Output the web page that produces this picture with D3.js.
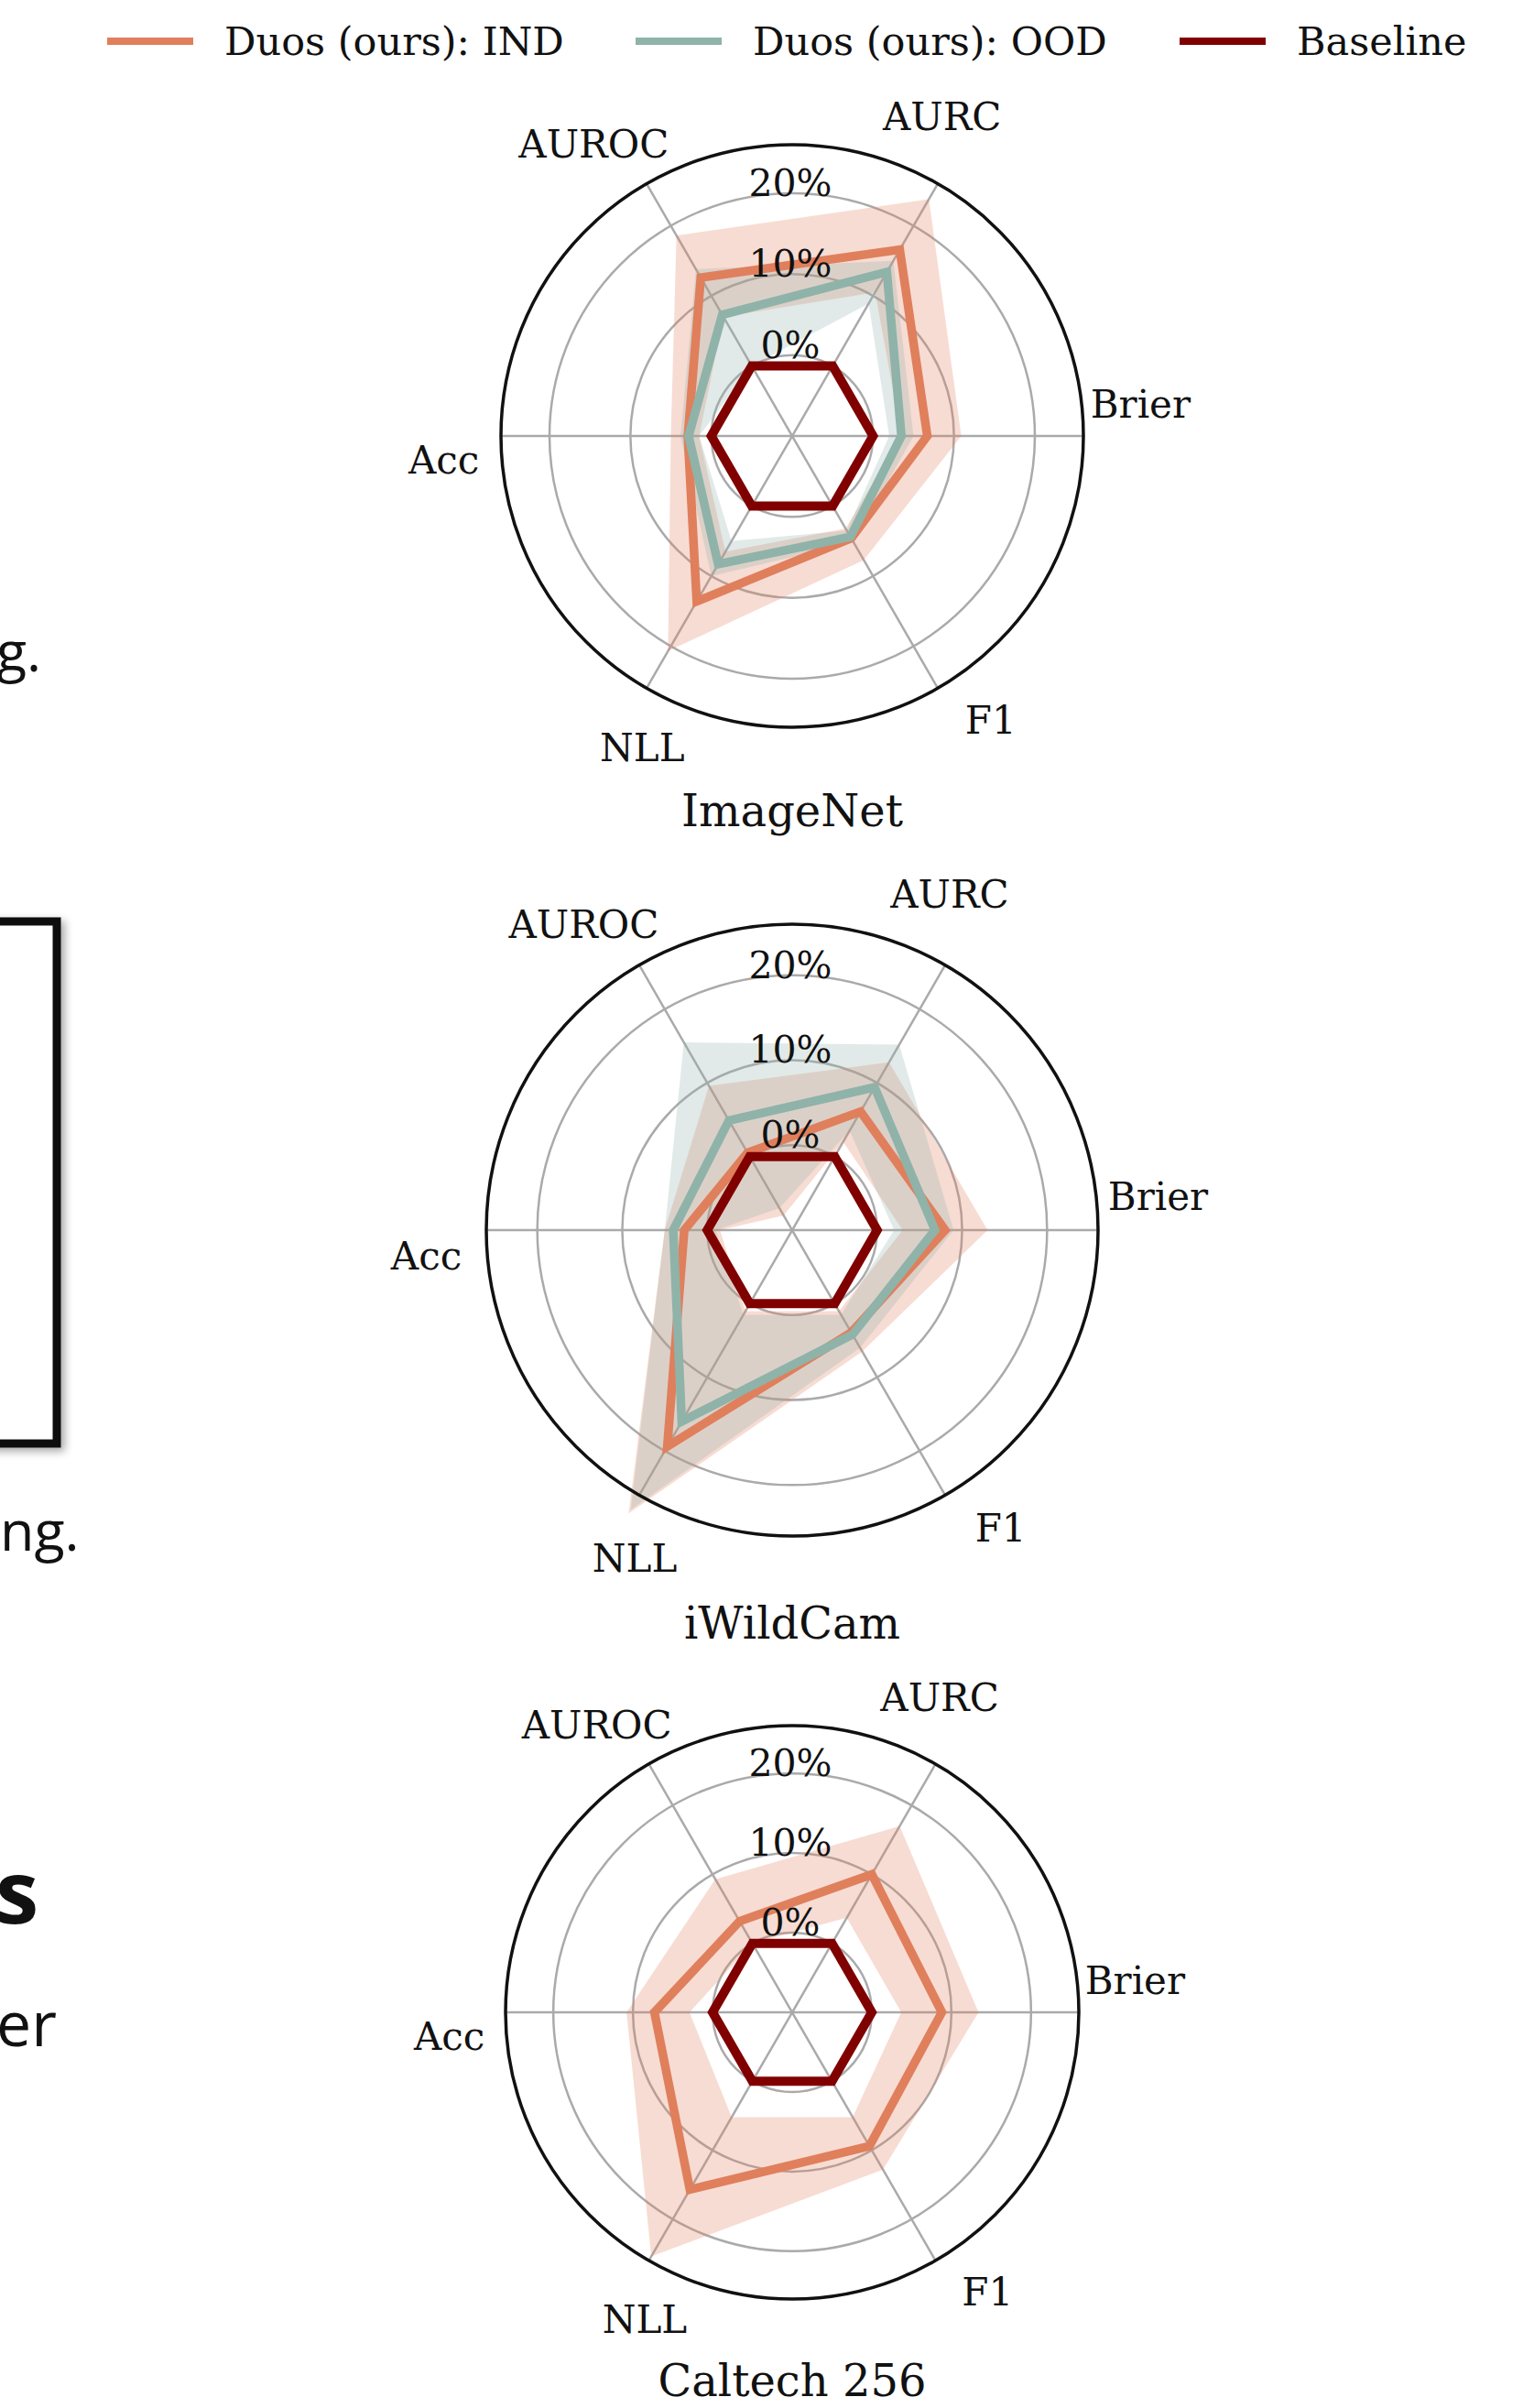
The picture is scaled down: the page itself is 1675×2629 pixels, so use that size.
<!DOCTYPE html>
<html>
<head>
<meta charset="utf-8">
<script src="https://cdn.jsdelivr.net/npm/d3@7"></script>
<style>
  body { margin: 0; background: #fff; }
  svg { display: block; }
</style>
</head>
<body>
<div id="chart"></div>
<script>
// Metrics go counter-clockwise starting at 3 o'clock
const metrics = ["Brier", "AURC", "AUROC", "Acc", "NLL", "F1"];
const datasets = ["ImageNet", "iWildCam", "Caltech 256"];
const rTicks = [0, 10, 20];
const rTickLabels = ["0%", "10%", "20%"];
const rDomain = [-10, 26];
const seriesNames = ["Duos (ours): IND", "Duos (ours): OOD", "Baseline"];

// relative improvement over baseline (%)
const baseline = [0, 0, 0, 0, 0, 0];

const imagenetInd = [6.7, 16.6, 12.6, 2.9, 13.6, 4.6];
const imagenetIndLow = [3.5, 10.5, 7.0, 1.5, 6.5, 3.2];
const imagenetIndHigh = [10.9, 23.8, 18.6, 5.0, 20.7, 7.7];
const imagenetOod = [3.5, 13.4, 7.3, 2.8, 8.3, 4.4];
const imagenetOodLow = [2.0, 8.9, 0.0, 1.5, 5.0, 3.5];
const imagenetOodHigh = [5.0, 15.0, 13.8, 3.8, 10.0, 5.2];

const iwildcamInd = [8.0, 6.1, 0.5, 2.7, 19.4, 3.9];
const iwildcamIndLow = [3.0, 2.0, -8.0, -1.5, 1.0, 1.0];
const iwildcamIndHigh = [13.0, 12.8, 9.6, 5.0, 28.5, 6.5];
const iwildcamOod = [6.8, 9.4, 4.9, 4.0, 16.0, 4.2];
const iwildcamOodLow = [2.0, 3.5, -7.0, -1.0, 1.5, 1.5];
const iwildcamOodHigh = [9.0, 15.2, 15.5, 5.0, 28.0, 6.0];

const caltechInd = [8.8, 10.0, 3.2, 7.3, 15.7, 9.4];
const caltechIndLow = [3.7, 3.7, 0.0, 2.9, 5.2, 5.2];
const caltechIndHigh = [13.4, 17.0, 9.3, 10.8, 25.4, 12.8];

const colors = { ind: "#e07f5c", ood: "#8fb3a9", base: "#800000" };

const panels = [
  { name: datasets[0], cy: 476, R: 318,
    ind: imagenetInd, indLow: imagenetIndLow, indHigh: imagenetIndHigh,
    ood: imagenetOod, oodLow: imagenetOodLow, oodHigh: imagenetOodHigh },
  { name: datasets[1], cy: 1343, R: 334,
    ind: iwildcamInd, indLow: iwildcamIndLow, indHigh: iwildcamIndHigh,
    ood: iwildcamOod, oodLow: iwildcamOodLow, oodHigh: iwildcamOodHigh },
  { name: datasets[2], cy: 2197, R: 313,
    ind: caltechInd, indLow: caltechIndLow, indHigh: caltechIndHigh,
    ood: null }
];

const W = 1675, H = 2629, cx = 865;
const serif = "'DejaVu Serif', serif";

const svg = d3.select("#chart").append("svg")
    .attr("width", W)
    .attr("height", H)
    .style("background", "#fff");

// --- clipped poster content on the left edge ---
const defs = svg.append("defs");
const shadow = defs.append("filter").attr("id", "shadow")
    .attr("x", "-20%").attr("y", "-20%").attr("width", "140%").attr("height", "140%");
shadow.append("feDropShadow")
    .attr("dx", 4).attr("dy", 4).attr("stdDeviation", 5)
    .attr("flood-color", "#000").attr("flood-opacity", 0.35);

const side = svg.append("g").style("font-family", "'Open Sans', sans-serif").attr("fill", "#111");
side.append("text").attr("x", -4).attr("y", 733).attr("font-size", 61).text("g.");
side.append("rect")
    .attr("x", -30).attr("y", 1006)
    .attr("width", 92).attr("height", 570)
    .attr("fill", "#fff").attr("stroke", "#111").attr("stroke-width", 9)
    .attr("filter", "url(#shadow)");
side.append("text").attr("x", 0).attr("y", 1693).attr("font-size", 61).text("ng.");
side.append("text").attr("x", -5).attr("y", 2100).attr("font-size", 95)
    .attr("font-weight", 700).text("s");
side.append("text").attr("x", -4).attr("y", 2234).attr("font-size", 68).text("er");

// --- legend ---
const legendItems = [
  { label: seriesNames[0], color: colors.ind, x: 117 },
  { label: seriesNames[1], color: colors.ood, x: 694 },
  { label: seriesNames[2], color: colors.base, x: 1288 }
];
const legend = svg.append("g").attr("class", "legend");
legendItems.forEach(d => {
  legend.append("line")
      .attr("x1", d.x).attr("x2", d.x + 94)
      .attr("y1", 45).attr("y2", 45)
      .attr("stroke", d.color).attr("stroke-width", 8);
  legend.append("text")
      .attr("x", d.x + 128).attr("y", 45)
      .attr("dominant-baseline", "central")
      .attr("font-family", serif).attr("font-size", 43)
      .attr("fill", "#111")
      .text(d.label);
});

// --- radar panels ---
const step = 2 * Math.PI / metrics.length;
// d3 radial angle is clockwise from 12 o'clock
const d3Angle = i => Math.PI / 2 - i * step;

panels.forEach(p => {
  const r = d3.scaleLinear().domain(rDomain).range([0, p.R]);
  const g = svg.append("g").attr("transform", `translate(${cx},${p.cy})`);

  const radial = d3.lineRadial()
      .angle((d, i) => d3Angle(i))
      .radius(d => r(d))
      .curve(d3.curveLinearClosed);

  // ring grid
  g.selectAll(".ring")
      .data(rTicks)
      .join("circle")
      .attr("class", "ring")
      .attr("r", d => r(d))
      .attr("fill", "none")
      .attr("stroke", "#aaaaaa")
      .attr("stroke-width", 2.5);

  // spokes
  g.selectAll(".spoke")
      .data(metrics)
      .join("line")
      .attr("class", "spoke")
      .attr("x1", 0).attr("y1", 0)
      .attr("x2", (d, i) => p.R * Math.cos(i * step))
      .attr("y2", (d, i) => -p.R * Math.sin(i * step))
      .attr("stroke", "#aaaaaa")
      .attr("stroke-width", 2.5);

  // bands (area between low and high polygons)
  const bands = [{ lo: p.indLow, hi: p.indHigh, color: colors.ind }];
  if (p.ood) bands.push({ lo: p.oodLow, hi: p.oodHigh, color: colors.ood });
  g.selectAll(".band")
      .data(bands)
      .join("path")
      .attr("class", "band")
      .attr("d", d => radial(d.hi) + radial(d.lo))
      .attr("fill", d => d.color)
      .attr("fill-opacity", 0.27)
      .attr("fill-rule", "evenodd");

  // series lines
  const lines = [{ v: p.ind, color: colors.ind, w: 9.5 }];
  if (p.ood) lines.push({ v: p.ood, color: colors.ood, w: 9.5 });
  lines.push({ v: baseline, color: colors.base, w: 10 });
  g.selectAll(".series")
      .data(lines)
      .join("path")
      .attr("class", "series")
      .attr("d", d => radial(d.v))
      .attr("fill", "none")
      .attr("stroke", d => d.color)
      .attr("stroke-width", d => d.w)
      .attr("stroke-linejoin", "miter");

  // frame
  g.append("circle")
      .attr("r", p.R)
      .attr("fill", "none")
      .attr("stroke", "#111")
      .attr("stroke-width", 3.5);

  // radial tick labels
  g.selectAll(".rlabel")
      .data(rTicks)
      .join("text")
      .attr("class", "rlabel")
      .attr("x", -2)
      .attr("y", d => -r(d) - 11)
      .attr("text-anchor", "middle")
      .attr("dominant-baseline", "central")
      .attr("font-family", serif)
      .attr("font-size", 41)
      .attr("fill", "#111")
      .text((d, i) => rTickLabels[i]);

  // metric labels
  const off = 4.6 * Math.PI / 180;
  g.selectAll(".mlabel")
      .data(metrics)
      .join("text")
      .attr("class", "mlabel")
      .attr("x", (d, i) => 1.2 * p.R * Math.cos(i * step + off))
      .attr("y", (d, i) => -1.2 * p.R * Math.sin(i * step + off) - 4)
      .attr("text-anchor", "middle")
      .attr("dominant-baseline", "central")
      .attr("font-family", serif)
      .attr("font-size", 42)
      .attr("fill", "#111")
      .text(d => d);

  // dataset title
  g.append("text")
      .attr("x", 0)
      .attr("y", 1.285 * p.R)
      .attr("text-anchor", "middle")
      .attr("dominant-baseline", "central")
      .attr("font-family", serif)
      .attr("font-size", 48)
      .attr("fill", "#111")
      .text(p.name);
});
</script>
</body>
</html>
